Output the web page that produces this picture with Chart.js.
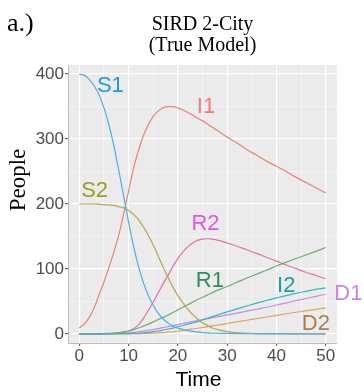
<!DOCTYPE html>
<html>
<head>
<meta charset="utf-8">
<script src="https://cdn.jsdelivr.net/npm/chart.js@4/dist/chart.umd.min.js"></script>
<style>
html,body{margin:0;padding:0;background:#ffffff;}
canvas{display:block;}
</style>
</head>
<body>
<canvas id="c" width="364" height="392"></canvas>
<script>
// ---- data ----
const time = [0,1,2,3,4,5,6,7,8,9,10,11,12,13,14,15,16,17,18,19,20,21,22,23,24,25,26,27,28,29,30,32,34,36,38,40,42,44,46,48,50];
const S1 = [400,398,392,382,368,348,322,290,252,212,172,135,104,79,59,44,32,23,17,12,9,7,5,4,3,2,1.5,1,1,0.8,0.6,0.4,0.3,0.2,0.2,0.1,0.1,0.1,0.1,0.1,0.1];
const S2 = [200,200,200,200,199.5,199,198.5,198,196,194,190,184,176,165,152,137,120,103,87,72,59,48,38,30,23,17,13,9,7,5,3.5,2,1,0.6,0.4,0.3,0.2,0.1,0.1,0.1,0.1];
const I1 = [9,15,25,40,60,80,102,126,152,185,220,255,282,305,322,335,343,348,350,350,348,345,341,337,332,328,323,318,313,308,303,294,284,275,266,258,250,241,233,225,217];
const I2 = [0,0,0,0,0,0.1,0.1,0.2,0.3,0.4,0.5,0.8,1.2,1.8,2.5,3.5,4.5,6,7.5,9,11,13,15,17,19,21.5,24,26.5,29,31.5,34,38.5,43,47.5,51.5,55.5,59,62.5,65.5,68.5,71];
const R1 = [0,0,0,0.1,0.2,0.4,0.7,1.2,2,3,4.5,6.5,9,12,15,18.5,22,25.5,29,33,37,41,45,49,53,56.5,60,63.5,67,70,73,79.5,86,92,98,104.5,110.5,116,121.5,127,133];
const R2 = [0,0,0,0,0.1,0.2,0.4,0.8,1.5,2.5,4.5,8,14,24,36,49,63,77,90,104,116,126,134,140,144,146,146.5,146,144.5,142.5,140,135,129.5,124,118,112,106,100.5,95,90,85];
const D1 = [0,0,0,0,0.1,0.2,0.3,0.5,0.8,1.2,1.8,2.5,3.3,4.3,5.5,6.8,8.2,9.7,11.2,12.8,14.4,16,17.6,19.1,20.6,22,23.5,25,26.4,27.8,29.2,32,35,38,41,44.5,47.8,51.2,54.5,57.8,61];
const D2 = [0,0,0,0,0,0,0,0,0.1,0.1,0.2,0.3,0.4,0.6,0.8,1.1,1.5,2,2.6,3.3,4.5,5.5,6.5,7.6,8.7,9.9,11.1,12.3,13.5,14.7,16,18.5,21,23.5,26,28.5,31,33.3,35.6,37.8,40];
const seriesNames = ['S1','S2','I1','I2','R1','R2','D1','D2'];
const seriesValues = [S1,S2,I1,I2,R1,R2,D1,D2];
const xTickValues = [0,10,20,30,40,50];
const yTickValues = [0,100,200,300,400];
const titleLines = ['SIRD 2-City','(True Model)'];
const panelTag = 'a.)';
const xTitle = 'Time';
const yTitle = 'People';

// ---- styles ----
const lineColors = {S1:'#4DAEE6',S2:'#B9A44C',I1:'#E9846F',I2:'#36B7C9',R1:'#6DAE6A',R2:'#E370A6',D1:'#C68BE4',D2:'#E3A262'};
const labelColors = {S1:'#1F98E2',S2:'#9C9B25',I1:'#F47B78',I2:'#16A0A2',R1:'#2B8E5E',R2:'#E255E4',D1:'#CB82EE',D2:'#B57A44'};
// label anchors in data coordinates [time, people]
const labelAnchors = {S1:[6.3,381],I1:[25.7,350],S2:[3.1,220],R2:[25.6,170],R1:[26.5,81],I2:[42,74],D1:[54.6,61],D2:[48,16]};

const datasets = seriesNames.map((n,i)=>({
  label:n,
  data: time.map((t,j)=>({x:t,y:seriesValues[i][j]})),
  borderColor: lineColors[n],
  borderWidth: 1.2,
  pointRadius: 0,
  cubicInterpolationMode: 'monotone',
  fill: false
}));

const panelBg = {
  id:'panelBg',
  beforeDraw(chart){
    const {ctx, chartArea:a} = chart;
    ctx.save();
    ctx.fillStyle = '#EBEBEB';
    ctx.fillRect(a.left, a.top, a.right-a.left, a.bottom-a.top);
    ctx.restore();
  }
};

const textLayer = {
  id:'textLayer',
  afterDraw(chart){
    const {ctx, chartArea:a} = chart;
    const xs = chart.scales.x, ys = chart.scales.y;
    ctx.save();
    ctx.textAlign = 'center';
    ctx.textBaseline = 'middle';
    ctx.font = '22px "Liberation Sans", Arial, sans-serif';
    seriesNames.forEach(n=>{
      const p = labelAnchors[n];
      ctx.fillStyle = labelColors[n];
      ctx.fillText(n, xs.getPixelForValue(p[0]), ys.getPixelForValue(p[1]));
    });
    // titles
    ctx.fillStyle = '#000';
    ctx.textBaseline = 'alphabetic';
    ctx.font = '20px "Liberation Serif", "Times New Roman", serif';
    const cx = (a.left + a.right)/2;
    ctx.fillText(titleLines[0], cx, 30);
    ctx.fillText(titleLines[1], cx, 51);
    ctx.textAlign = 'left';
    ctx.font = '26px "Liberation Serif", "Times New Roman", serif';
    ctx.fillText(panelTag, 7, 31);
    // axis titles
    ctx.textAlign = 'center';
    ctx.textBaseline = 'middle';
    ctx.font = '21px "Liberation Sans", Arial, sans-serif';
    ctx.fillText(xTitle, cx - 4, 380);
    ctx.save();
    ctx.translate(19, 180);
    ctx.rotate(-Math.PI/2);
    ctx.font = '23px "Liberation Serif", "Times New Roman", serif';
    ctx.fillText(yTitle, 0, 0);
    ctx.restore();
    ctx.restore();
  }
};

const isMajorX = v => Math.abs(v % 10) < 1e-6;
const isMajorY = v => Math.abs(v % 100) < 1e-6;

new Chart(document.getElementById('c'), {
  type:'line',
  data:{datasets},
  plugins:[panelBg, textLayer],
  options:{
    responsive:false,
    devicePixelRatio:1,
    animation:false,
    layout:{padding:{top:65,right:27,left:0,bottom:0}},
    plugins:{legend:{display:false},tooltip:{enabled:false},title:{display:false}},
    scales:{
      x:{
        type:'linear', min:-2.3, max:52.3,
        afterBuildTicks(s){ s.ticks = [0,5,10,15,20,25,30,35,40,45,50].map(v=>({value:v})); },
        afterFit(s){ s.height = 49; },
        ticks:{
          autoSkip:false, maxRotation:0, padding:0,
          color:'#4D4D4D', font:{family:'"Liberation Sans", Arial, sans-serif', size:17},
          callback:(v)=> xTickValues.includes(v) ? String(v) : ''
        },
        grid:{
          color:(c)=> isMajorX(c.tick.value) ? '#FFFFFF' : 'rgba(255,255,255,0.65)',
          lineWidth:(c)=> isMajorX(c.tick.value) ? 1.2 : 0.6,
          tickColor:(c)=> isMajorX(c.tick.value) ? '#666666' : 'rgba(0,0,0,0)',
          tickLength:3, drawTicks:true
        },
        border:{display:true, color:'#BDBDBD', width:1}
      },
      y:{
        type:'linear', min:-14, max:414,
        afterBuildTicks(s){ s.ticks = [0,50,100,150,200,250,300,350,400].map(v=>({value:v})); },
        afterFit(s){ s.width = 68; },
        ticks:{
          autoSkip:false, padding:1,
          color:'#4D4D4D', font:{family:'"Liberation Sans", Arial, sans-serif', size:17},
          callback:(v)=> yTickValues.includes(v) ? String(v) : ''
        },
        grid:{
          color:(c)=> isMajorY(c.tick.value) ? '#FFFFFF' : 'rgba(255,255,255,0.65)',
          lineWidth:(c)=> isMajorY(c.tick.value) ? 1.2 : 0.6,
          tickColor:(c)=> isMajorY(c.tick.value) ? '#666666' : 'rgba(0,0,0,0)',
          tickLength:3, drawTicks:true
        },
        border:{display:true, color:'#BDBDBD', width:1}
      }
    }
  }
});
</script>
</body>
</html>
